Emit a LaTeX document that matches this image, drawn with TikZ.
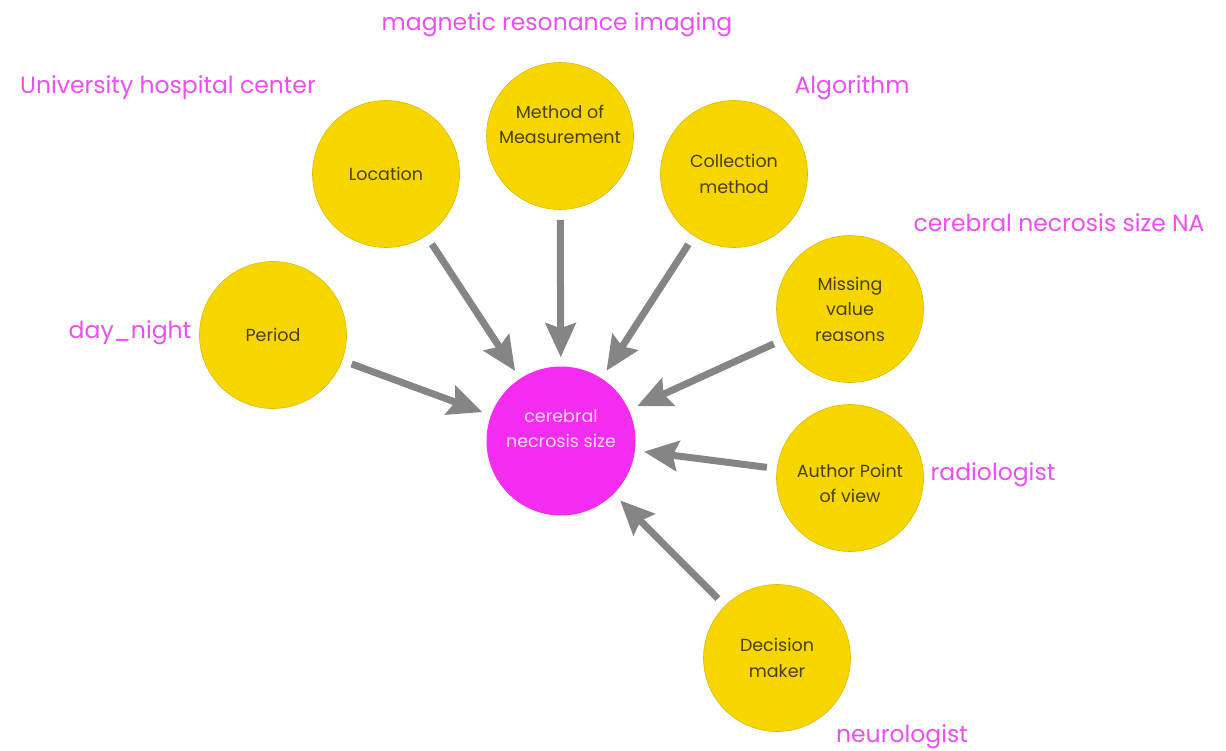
\documentclass[tikz,border=0pt]{standalone}
\usepackage{fontspec}
\setmainfont{Poppins}
\usetikzlibrary{arrows.meta}
\definecolor{circyel}{HTML}{F7D600}
\definecolor{circedge}{HTML}{D9BC00}
\definecolor{centmag}{HTML}{F42CF0}
\definecolor{labmag}{HTML}{EB4FF0}
\definecolor{circtext}{HTML}{4A4000}
\definecolor{arrgray}{HTML}{858585}
\definecolor{centtext}{HTML}{FFD8FF}
\tikzset{
  factor/.style={circle, fill=circyel, draw=circedge, line width=0.6pt, minimum size=147pt, inner sep=0pt,
    align=center, text=circtext, font=\fontsize{17.5}{25.5}\selectfont},
  central/.style={circle, fill=centmag, draw=none, minimum size=149pt, inner sep=0pt,
    align=center, text=centtext, font=\fontsize{17.5}{25.5}\selectfont},
  tag/.style={text=labmag, font=\fontsize{23.5}{28}\selectfont, inner sep=0pt},
  link/.style={draw=arrgray, line width=7pt, -{Stealth[length=34pt,width=30pt,inset=5pt]},
    shorten <=10pt, shorten >=9pt}
}
\begin{document}
\begin{tikzpicture}[x=1pt,y=-1pt]
\useasboundingbox (0,0) rectangle (1226,751);
\node[central] (cns) at (561,441) {cerebral\\necrosis size\\[-1pt]\mbox{}};
\node[factor] (period) at (273,335) {Period};
\node[factor] (location) at (386,174) {Location};
\node[factor] (method) at (560,136) {Method of\\Measurement\\[-2pt]\mbox{}};
\node[factor] (collection) at (734,174) {Collection\\method};
\node[factor] (missing) at (850,309) {Missing\\value\\reasons};
\node[factor] (author) at (850,478) {\mbox{}\\[-1pt]Author Point\\of view};
\node[factor] (decision) at (777,658) {Decision\\maker};

\node[tag] (t1) at (557,25) {magnetic resonance imaging};
\node[tag] (t2) at (168,88) {University hospital center};
\node[tag] (t3) at (852,88) {Algorithm};
\node[tag] (t4) at (1059,223) {cerebral necrosis size NA};
\node[tag] (t5) at (130,333) {day\_night};
\node[tag] (t6) at (993,475) {radiologist};
\node[tag] (t7) at (902,737) {neurologist};

\draw[link] (period) -- (cns);
\draw[link] (location) -- (cns);
\draw[link] (method) -- (cns);
\draw[link] (collection) -- (cns);
\draw[link] (missing) -- (cns);
\draw[link] (author) -- (cns);
\draw[link] (decision) -- (cns);
\end{tikzpicture}
\end{document}
